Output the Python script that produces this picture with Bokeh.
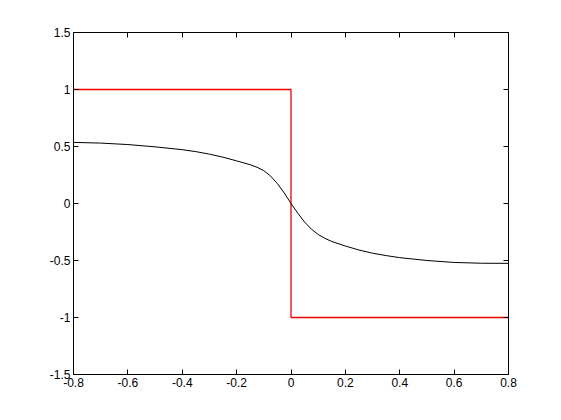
from bokeh.plotting import figure
from bokeh.models import LinearAxis, FixedTicker, Range1d
from bokeh.embed import file_html
from bokeh.resources import INLINE

# Smooth black curve
curve_x = [-0.80, -0.70, -0.60, -0.50, -0.40, -0.35, -0.30, -0.25, -0.20, -0.15, -0.125, -0.10,
           -0.075, -0.05, -0.025, 0.00, 0.025, 0.05, 0.075, 0.10, 0.125, 0.15, 0.20, 0.25, 0.30,
           0.35, 0.40, 0.50, 0.60, 0.70, 0.80]
curve_y = [0.536, 0.530, 0.517, 0.497, 0.472, 0.455, 0.433, 0.406, 0.374, 0.340, 0.318, 0.288,
           0.240, 0.175, 0.093, 0.000, -0.085, -0.163, -0.225, -0.272, -0.306, -0.333, -0.373,
           -0.408, -0.436, -0.457, -0.475, -0.500, -0.517, -0.524, -0.525]

# Red step signal
step_x = [-0.8, 0.0, 0.0, 0.8]
step_y = [1.0, 1.0, -1.0, -1.0]

x_ticks = [-0.8, -0.6, -0.4, -0.2, 0.0, 0.2, 0.4, 0.6, 0.8]
x_tick_labels = ["-0.8", "-0.6", "-0.4", "-0.2", "0", "0.2", "0.4", "0.6", "0.8"]
y_ticks = [-1.5, -1.0, -0.5, 0.0, 0.5, 1.0, 1.5]
y_tick_labels = ["-1.5", "-1", "-0.5", "0", "0.5", "1", "1.5"]

FONT = "Liberation Sans"

p = figure(width=553, height=412, output_backend="svg", toolbar_location=None,
           x_axis_location=None, y_axis_location=None,
           x_range=Range1d(-0.8, 0.8), y_range=Range1d(-1.5, 1.5),
           min_border_left=73, min_border_right=45, min_border_top=32, min_border_bottom=38)
p.xgrid.visible = False
p.ygrid.visible = False
p.outline_line_color = "black"
p.outline_line_width = 1
p.background_fill_color = "white"
p.border_fill_color = "white"


def make_axis(ticks, labels, show_labels):
    ax = LinearAxis(ticker=FixedTicker(ticks=ticks))
    ax.major_label_overrides = {t: l for t, l in zip(ticks, labels)}
    ax.major_tick_in = 5
    ax.major_tick_out = 0
    ax.minor_tick_in = 0
    ax.minor_tick_out = 0
    ax.axis_line_color = "black"
    ax.major_tick_line_color = "black"
    ax.major_label_text_font = FONT
    ax.major_label_text_font_size = "12px"
    ax.major_label_text_color = "black" if show_labels else None
    ax.major_label_standoff = 3
    return ax


p.add_layout(make_axis(x_ticks, x_tick_labels, True), "below")
p.add_layout(make_axis(x_ticks, x_tick_labels, False), "above")
p.add_layout(make_axis(y_ticks, y_tick_labels, True), "left")
p.add_layout(make_axis(y_ticks, y_tick_labels, False), "right")

p.line(step_x, step_y, line_color="#ee0000", line_width=1.3)
p.line(curve_x, curve_y, line_color="black", line_width=1)

open("out.html", "w").write(file_html(p, INLINE))
